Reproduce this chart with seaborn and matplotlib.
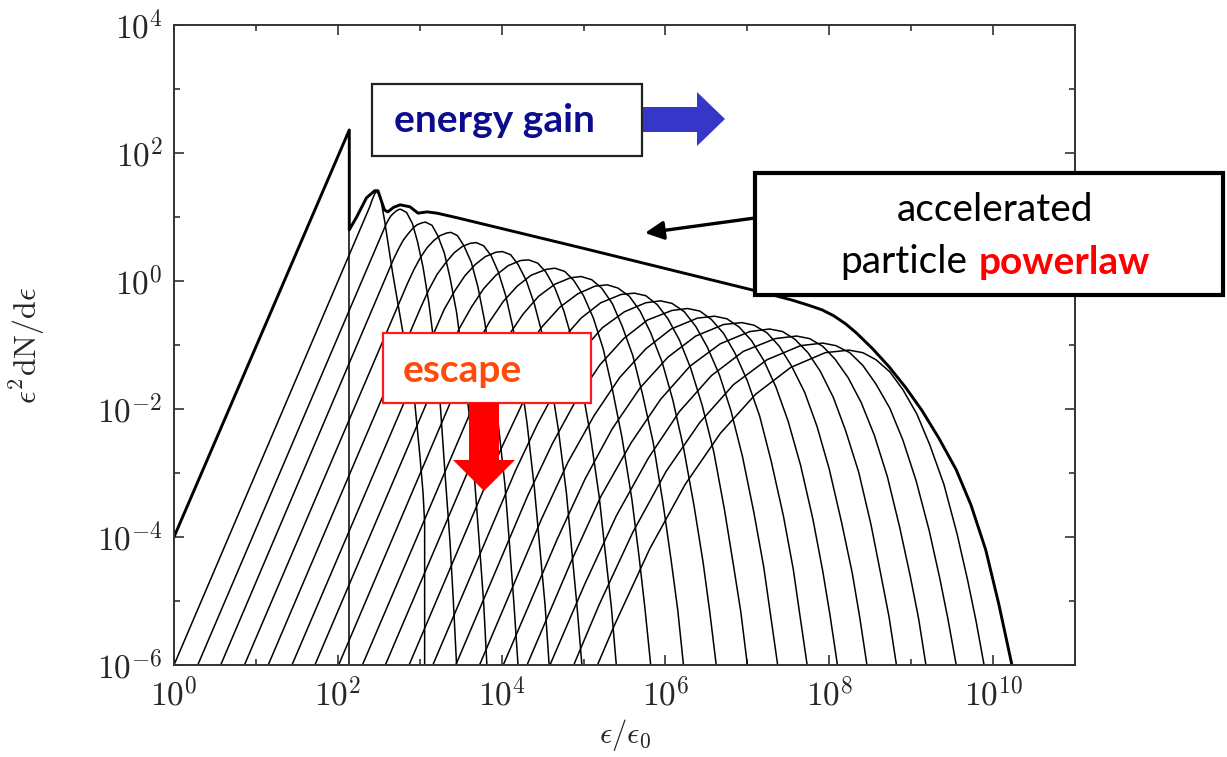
import numpy as np
import pandas as pd
import matplotlib
matplotlib.use("Agg")
import matplotlib.pyplot as plt
import seaborn as sns
from matplotlib.ticker import FixedLocator, FuncFormatter, NullFormatter
from matplotlib.patches import Rectangle, Polygon, FancyArrowPatch

# ---------------- data (log10 eps/eps0 , log10 eps^2 dN/deps) ----------------
total_logx = [0.00, 2.14, 2.14, 2.23, 2.35, 2.45, 2.49, 2.57, 2.61, 2.68, 2.76, 2.88, 2.98,
              3.09, 3.21, 3.45, 5.00, 7.06, 7.30, 7.55, 7.75, 7.91, 8.05, 8.20, 8.33, 8.53,
              8.73, 8.93, 9.13, 9.34, 9.55, 9.73, 9.91, 10.07, 10.23]
total_logy = [-4.00, 2.36, 0.80, 1.00, 1.30, 1.41, 1.41, 1.11, 1.08, 1.15, 1.19, 1.16, 1.06,
              1.08, 1.06, 0.99, 0.51, -0.14, -0.215, -0.30, -0.38, -0.45, -0.54, -0.67, -0.81,
              -1.06, -1.34, -1.66, -2.02, -2.46, -2.95, -3.50, -4.20, -5.05, -6.00]

injection_logx = [2.14, 2.14]
injection_logy = [0.80, -6.00]

cycle00_logx = [0.00, 2.39, 2.42, 2.45, 2.47, 2.50, 2.53, 2.57, 2.67, 2.79, 2.88, 2.94, 3.00, 3.04, 3.06, 3.06]
cycle00_logy = [-6.00, 1.16, 1.27, 1.36, 1.40, 1.36, 1.24, 0.95, 0.12, -0.77, -1.42, -1.91, -2.70, -3.30, -3.78, -6.00]
cycle01_logx = [0.29, 2.56, 2.59, 2.62, 2.65, 2.69, 2.72, 2.75, 2.77, 2.84, 2.91, 2.97, 3.04, 3.11, 3.18, 3.25, 3.31, 3.37, 3.41, 3.45]
cycle01_logy = [-6.00, 0.80, 0.89, 0.96, 1.02, 1.07, 1.10, 1.12, 1.12, 1.07, 0.90, 0.63, 0.22, -0.33, -1.03, -1.92, -3.03, -4.08, -4.99, -6.00]
cycle02_logx = [0.57, 2.68, 2.74, 2.80, 2.86, 2.92, 2.97, 3.03, 3.07, 3.15, 3.22, 3.30, 3.37, 3.45, 3.52, 3.60, 3.67, 3.73, 3.78, 3.82]
cycle02_logy = [-6.00, 0.34, 0.50, 0.64, 0.74, 0.83, 0.88, 0.91, 0.92, 0.87, 0.71, 0.44, 0.05, -0.49, -1.17, -2.04, -3.11, -4.14, -5.02, -6.00]
cycle03_logx = [0.86, 2.85, 2.93, 3.01, 3.09, 3.17, 3.25, 3.33, 3.38, 3.46, 3.54, 3.63, 3.71, 3.79, 3.87, 3.95, 4.04, 4.10, 4.15, 4.20]
cycle03_logy = [-6.00, -0.04, 0.18, 0.37, 0.52, 0.63, 0.71, 0.75, 0.76, 0.71, 0.55, 0.29, -0.09, -0.61, -1.28, -2.13, -3.18, -4.18, -5.04, -6.00]
cycle04_logx = [1.15, 3.01, 3.11, 3.21, 3.32, 3.42, 3.52, 3.62, 3.69, 3.78, 3.87, 3.96, 4.05, 4.14, 4.22, 4.31, 4.40, 4.47, 4.53, 4.58]
cycle04_logy = [-6.00, -0.42, -0.14, 0.10, 0.29, 0.44, 0.54, 0.59, 0.60, 0.55, 0.40, 0.14, -0.23, -0.74, -1.40, -2.22, -3.24, -4.22, -5.06, -6.00]
cycle05_logx = [1.44, 3.18, 3.30, 3.43, 3.55, 3.68, 3.80, 3.93, 4.01, 4.11, 4.20, 4.30, 4.40, 4.50, 4.59, 4.69, 4.79, 4.86, 4.92, 4.98]
cycle05_logy = [-6.00, -0.79, -0.44, -0.15, 0.08, 0.26, 0.38, 0.45, 0.46, 0.41, 0.26, 0.01, -0.36, -0.85, -1.49, -2.30, -3.30, -4.26, -5.08, -6.00]
cycle06_logx = [1.72, 3.33, 3.48, 3.63, 3.78, 3.93, 4.08, 4.23, 4.33, 4.44, 4.54, 4.65, 4.76, 4.87, 4.97, 5.08, 5.19, 5.27, 5.34, 5.40]
cycle06_logy = [-6.00, -1.17, -0.75, -0.41, -0.12, 0.09, 0.24, 0.32, 0.33, 0.28, 0.14, -0.11, -0.47, -0.96, -1.58, -2.38, -3.36, -4.30, -5.10, -6.00]
cycle07_logx = [2.01, 3.50, 3.68, 3.85, 4.02, 4.19, 4.36, 4.54, 4.65, 4.77, 4.88, 5.00, 5.12, 5.24, 5.35, 5.47, 5.59, 5.68, 5.75, 5.82]
cycle07_logy = [-6.00, -1.52, -1.04, -0.64, -0.32, -0.08, 0.09, 0.18, 0.20, 0.15, 0.01, -0.23, -0.58, -1.06, -1.68, -2.45, -3.41, -4.33, -5.12, -6.00]
cycle08_logx = [2.30, 3.68, 3.87, 4.07, 4.26, 4.45, 4.65, 4.84, 4.97, 5.10, 5.22, 5.35, 5.47, 5.60, 5.72, 5.85, 5.97, 6.07, 6.15, 6.22]
cycle08_logy = [-6.00, -1.87, -1.33, -0.88, -0.52, -0.24, -0.05, 0.05, 0.07, 0.02, -0.11, -0.35, -0.70, -1.16, -1.77, -2.52, -3.47, -4.37, -5.14, -6.00]
cycle09_logx = [2.58, 3.83, 4.05, 4.27, 4.49, 4.71, 4.93, 5.14, 5.29, 5.42, 5.56, 5.69, 5.82, 5.96, 6.09, 6.22, 6.35, 6.46, 6.54, 6.62]
cycle09_logy = [-6.00, -2.25, -1.64, -1.13, -0.72, -0.41, -0.20, -0.08, -0.06, -0.11, -0.24, -0.47, -0.81, -1.27, -1.86, -2.60, -3.52, -4.40, -5.16, -6.00]
cycle10_logx = [2.87, 3.99, 4.24, 4.48, 4.73, 4.97, 5.21, 5.46, 5.62, 5.76, 5.90, 6.03, 6.17, 6.31, 6.45, 6.59, 6.72, 6.83, 6.92, 7.00]
cycle10_logy = [-6.00, -2.63, -1.95, -1.39, -0.93, -0.58, -0.34, -0.21, -0.19, -0.23, -0.37, -0.59, -0.92, -1.37, -1.95, -2.67, -3.57, -4.44, -5.17, -6.00]
cycle11_logx = [3.16, 4.17, 4.44, 4.70, 4.97, 5.23, 5.50, 5.76, 5.94, 6.08, 6.23, 6.37, 6.51, 6.66, 6.80, 6.94, 7.08, 7.20, 7.28, 7.37]
cycle11_logy = [-6.00, -2.96, -2.23, -1.61, -1.11, -0.73, -0.48, -0.34, -0.31, -0.35, -0.48, -0.71, -1.03, -1.47, -2.03, -2.74, -3.62, -4.47, -5.19, -6.00]
cycle12_logx = [3.44, 4.32, 4.62, 4.91, 5.20, 5.49, 5.78, 6.08, 6.27, 6.42, 6.56, 6.71, 6.85, 7.00, 7.15, 7.29, 7.44, 7.56, 7.64, 7.73]
cycle12_logy = [-6.00, -3.35, -2.54, -1.86, -1.31, -0.90, -0.61, -0.46, -0.43, -0.47, -0.60, -0.82, -1.13, -1.56, -2.11, -2.81, -3.67, -4.50, -5.21, -6.00]
cycle13_logx = [3.73, 4.49, 4.81, 5.13, 5.44, 5.76, 6.07, 6.39, 6.60, 6.75, 6.90, 7.05, 7.20, 7.35, 7.50, 7.65, 7.80, 7.92, 8.01, 8.10]
cycle13_logy = [-6.00, -3.71, -2.83, -2.10, -1.51, -1.06, -0.75, -0.58, -0.55, -0.59, -0.72, -0.93, -1.24, -1.66, -2.20, -2.88, -3.72, -4.53, -5.23, -6.00]
cycle14_logx = [4.02, 4.68, 5.02, 5.35, 5.69, 6.03, 6.37, 6.71, 6.93, 7.08, 7.24, 7.39, 7.54, 7.70, 7.85, 8.00, 8.15, 8.28, 8.37, 8.46]
cycle14_logy = [-6.00, -4.03, -3.09, -2.31, -1.67, -1.19, -0.86, -0.68, -0.65, -0.69, -0.81, -1.02, -1.33, -1.74, -2.27, -2.94, -3.77, -4.56, -5.24, -6.00]
cycle15_logx = [4.31, 4.85, 5.21, 5.58, 5.94, 6.30, 6.67, 7.03, 7.27, 7.43, 7.58, 7.74, 7.89, 8.05, 8.20, 8.36, 8.51, 8.63, 8.73, 8.82]
cycle15_logy = [-6.00, -4.38, -3.37, -2.53, -1.85, -1.33, -0.98, -0.79, -0.75, -0.79, -0.91, -1.12, -1.41, -1.82, -2.34, -2.99, -3.81, -4.59, -5.25, -6.00]
cycle16_logx = [4.59, 5.01, 5.40, 5.79, 6.17, 6.56, 6.95, 7.34, 7.60, 7.76, 7.92, 8.07, 8.23, 8.39, 8.55, 8.71, 8.86, 8.99, 9.09, 9.18]
cycle16_logy = [-6.00, -4.75, -3.67, -2.77, -2.04, -1.48, -1.10, -0.90, -0.86, -0.90, -1.02, -1.22, -1.51, -1.90, -2.41, -3.06, -3.85, -4.62, -5.27, -6.00]
cycle17_logx = [4.88, 5.19, 5.60, 6.01, 6.42, 6.83, 7.24, 7.65, 7.92, 8.08, 8.25, 8.41, 8.57, 8.74, 8.90, 9.06, 9.22, 9.35, 9.45, 9.55]
cycle17_logy = [-6.00, -5.06, -3.93, -2.97, -2.21, -1.62, -1.23, -1.01, -0.97, -1.01, -1.12, -1.32, -1.61, -1.99, -2.49, -3.12, -3.90, -4.65, -5.29, -6.00]
cycle18_logx = [5.17, 5.38, 5.81, 6.24, 6.67, 7.10, 7.53, 7.95, 8.24, 8.41, 8.57, 8.74, 8.90, 9.07, 9.23, 9.40, 9.56, 9.69, 9.79, 9.89]
cycle18_logy = [-6.00, -5.37, -4.18, -3.18, -2.38, -1.77, -1.35, -1.12, -1.08, -1.12, -1.23, -1.42, -1.70, -2.08, -2.57, -3.18, -3.95, -4.68, -5.30, -6.00]

x_major_exp = [0, 2, 4, 6, 8, 10]
x_minor_exp = [1, 3, 5, 7, 9, 11]
y_major_exp = [-6, -4, -2, 0, 2, 4]
y_minor_exp = [-5, -3, -1, 1, 3]

# ---------------- figure ----------------
sns.set_style("ticks")
plt.rcParams["font.family"] = ["DejaVu Serif"]
plt.rcParams["mathtext.fontset"] = "cm"

W, H = 1227, 757
fig = plt.figure(figsize=(W / 100, H / 100), dpi=100)
fig.patch.set_facecolor("white")
L, R, T, B = 174, 1075, 25, 665
ax = fig.add_axes([L / W, 1 - B / H, (R - L) / W, (B - T) / H])
ax.set_xscale("log")
ax.set_yscale("log")

cycles = [
    (cycle00_logx, cycle00_logy), (cycle01_logx, cycle01_logy), (cycle02_logx, cycle02_logy),
    (cycle03_logx, cycle03_logy), (cycle04_logx, cycle04_logy), (cycle05_logx, cycle05_logy),
    (cycle06_logx, cycle06_logy), (cycle07_logx, cycle07_logy), (cycle08_logx, cycle08_logy),
    (cycle09_logx, cycle09_logy), (cycle10_logx, cycle10_logy), (cycle11_logx, cycle11_logy),
    (cycle12_logx, cycle12_logy), (cycle13_logx, cycle13_logy), (cycle14_logx, cycle14_logy),
    (cycle15_logx, cycle15_logy), (cycle16_logx, cycle16_logy), (cycle17_logx, cycle17_logy),
    (cycle18_logx, cycle18_logy), (injection_logx, injection_logy),
]
frames = []
for i, (lx, ly) in enumerate(cycles):
    frames.append(pd.DataFrame({"x": np.power(10.0, lx), "y": np.power(10.0, ly), "curve": i}))
thin = pd.concat(frames, ignore_index=True)

sns.lineplot(data=thin, x="x", y="y", units="curve", estimator=None, sort=False,
             color="black", linewidth=1.1, ax=ax, legend=False)
total = pd.DataFrame({"x": np.power(10.0, total_logx), "y": np.power(10.0, total_logy)})
sns.lineplot(data=total, x="x", y="y", estimator=None, sort=False, color="black",
             linewidth=2.1, ax=ax, legend=False)

ax.set_xlim(1, 1e11)
ax.set_ylim(1e-6, 1e4)
fmt = FuncFormatter(lambda v, p: r"$10^{%d}$" % int(round(np.log10(v))))
ax.xaxis.set_major_locator(FixedLocator([10.0 ** k for k in x_major_exp]))
ax.xaxis.set_minor_locator(FixedLocator([10.0 ** k for k in x_minor_exp]))
ax.yaxis.set_major_locator(FixedLocator([10.0 ** k for k in y_major_exp]))
ax.yaxis.set_minor_locator(FixedLocator([10.0 ** k for k in y_minor_exp]))
ax.xaxis.set_major_formatter(fmt)
ax.yaxis.set_major_formatter(fmt)
ax.xaxis.set_minor_formatter(NullFormatter())
ax.yaxis.set_minor_formatter(NullFormatter())
ax.tick_params(which="both", direction="in", top=True, right=True, color="#333333", width=1.2)
ax.tick_params(which="major", length=7, labelsize=24)
ax.tick_params(axis="x", which="major", pad=9)
ax.tick_params(axis="y", which="major", pad=8)
ax.tick_params(which="minor", length=4)
for s in ax.spines.values():
    s.set_linewidth(1.4)
    s.set_color("#333333")

ax.set_xlabel(r"$\epsilon/\epsilon_{0}$", fontsize=22, labelpad=3)
ax.set_ylabel(r"$\epsilon^{2}\mathrm{dN/d}\epsilon$", fontsize=23, labelpad=36)


# ---------------- annotations (figure pixel coordinates) ----------------
def fx(X):
    return X / W


def fy(Y):
    return 1 - Y / H


def box(x0, y0, x1, y1, ec, lw):
    r = Rectangle((fx(x0), fy(y1)), (x1 - x0) / W, (y1 - y0) / H, transform=fig.transFigure,
                  facecolor="white", edgecolor=ec, linewidth=lw, zorder=5)
    fig.add_artist(r)


ann_font = ["Lato", "DejaVu Sans"]
ann_size = 28

box(372, 84, 642, 156, "#222222", 1.6)
fig.text(fx(494), fy(121), "energy gain", ha="center", va="center", fontsize=ann_size,
         fontweight="bold", color="#0c0c8c", family=ann_font, zorder=6)
fig.add_artist(Polygon([(fx(643), fy(107)), (fx(697), fy(107)), (fx(697), fy(92)), (fx(725), fy(119)),
                        (fx(697), fy(146)), (fx(697), fy(132)), (fx(643), fy(132))],
                       closed=True, transform=fig.transFigure, facecolor="#3636c8",
                       edgecolor="none", zorder=6))

box(755, 173, 1223, 295, "black", 3.0)
fig.text(fx(995), fy(210), "accelerated", ha="center", va="center", fontsize=ann_size,
         color="black", family=ann_font, zorder=6)
fig.text(fx(967), fy(262), "particle", ha="right", va="center", fontsize=ann_size,
         color="black", family=ann_font, zorder=6)
fig.text(fx(979), fy(262), "powerlaw", ha="left", va="center", fontsize=ann_size,
         fontweight="bold", color="#ff0000", family=ann_font, zorder=6)
fig.add_artist(FancyArrowPatch((fx(755), fy(218)), (fx(645), fy(233)), transform=fig.transFigure,
                               arrowstyle="-|>", mutation_scale=28, linewidth=2.4,
                               color="black", shrinkA=0, shrinkB=0, zorder=6))

box(383, 333, 591, 403, "#ff1a1a", 1.6)
fig.text(fx(403), fy(370), "escape", ha="left", va="center", fontsize=ann_size,
         fontweight="bold", color="#ff4a0a", family=ann_font, zorder=6)
fig.add_artist(Polygon([(fx(469), fy(403)), (fx(499), fy(403)), (fx(499), fy(460)), (fx(515), fy(460)),
                        (fx(484), fy(491)), (fx(453), fy(460)), (fx(469), fy(460))],
                       closed=True, transform=fig.transFigure, facecolor="#ff0000",
                       edgecolor="none", zorder=6))

fig.savefig("out.png", dpi=100, facecolor="white")
